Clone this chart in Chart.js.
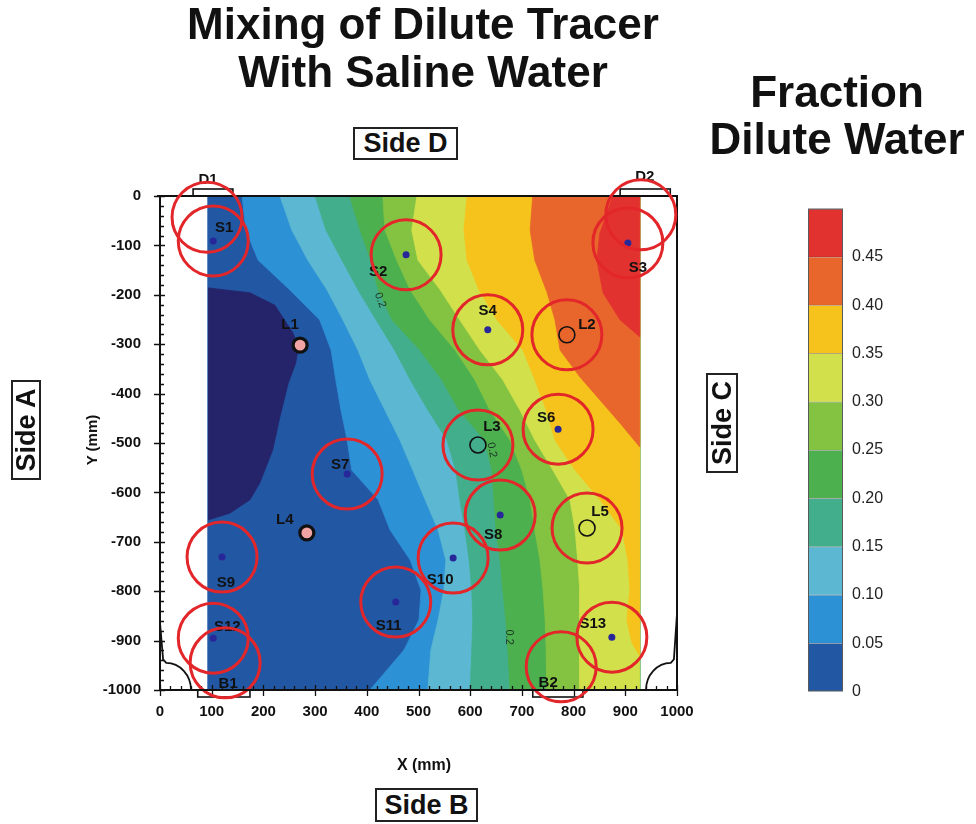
<!DOCTYPE html>
<html>
<head>
<meta charset="utf-8">
<script src="https://cdn.jsdelivr.net/npm/chart.js@4.4.1/dist/chart.umd.min.js"></script>
<style>
  html, body { margin: 0; padding: 0; background: #fff; }
  #wrap { position: relative; width: 976px; height: 824px; overflow: hidden;
          font-family: "Liberation Sans", Arial, Helvetica, sans-serif; color: #111; }
  canvas { position: absolute; }
  .t { position: absolute; font-weight: bold; white-space: nowrap; text-align: center; }
  .box { position: absolute; border: 2px solid #222; box-sizing: border-box; font-weight: bold;
         font-size: 27px; display: flex; align-items: center; justify-content: center; background: #fff; }
</style>
</head>
<body>
<div id="wrap">
  <canvas id="field" width="976" height="824" style="left:0;top:0"></canvas>
  <canvas id="scaleBar" width="110" height="520" style="left:790px;top:190px"></canvas>

  <div class="t" style="left:0;top:0;width:846px;font-size:44px;line-height:48px;">Mixing of Dilute Tracer<br>With Saline Water</div>
  <div class="t" style="left:700px;top:68px;width:274px;font-size:44px;line-height:47px;">Fraction<br>Dilute Water</div>

  <div class="box" style="left:353px;top:127px;width:105px;height:33px;">Side D</div>
  <div class="box" style="left:375px;top:788px;width:103px;height:34px;">Side B</div>
  <div class="box" style="left:-24px;top:415px;width:100px;height:30px;transform:rotate(-90deg);">Side A</div>
  <div class="box" style="left:672px;top:407px;width:100px;height:32px;transform:rotate(-90deg);">Side C</div>

  <div class="t" style="left:52px;top:431px;width:80px;font-size:15px;line-height:18px;transform:rotate(-90deg);">Y (mm)</div>
  <div class="t" style="left:374px;top:755px;width:100px;font-size:16px;line-height:19px;">X (mm)</div>
</div>

<script>
// ---- Tank plan, coordinates in mm ----------------------------------------
const FIELD_LEFT = 93, FIELD_RIGHT = 928, FIELD_TOP = 0, FIELD_BOTTOM = -1000;

// Contour levels of the dilute-water fraction and the fill of each band
const levels = [0, 0.05, 0.10, 0.15, 0.20, 0.25, 0.30, 0.35, 0.40, 0.45, 0.50];
const bandColors = ['#2257a4', '#2d91d5', '#5cb8d2', '#43ae8b', '#4cb04f',
                    '#84c342', '#d2e14b', '#f6c21c', '#e8662c', '#e2322f'];
const belowZeroColor = '#25246b';

// Contour lines (x, y in mm), traced from the top edge downwards
const line000 = [[93,-186],[174,-196],[222,-221],[257,-277],[268,-305],[262,-340],[248,-379],
                 [232,-447],[218,-514],[193,-581],[174,-615],[135,-642],[93,-656]];
const line005 = [[159,0],[166,-69],[190,-130],[251,-190],[309,-251],[331,-312],[340,-372],[350,-433],
                 [362,-494],[371,-555],[422,-615],[445,-676],[484,-737],[505,-798],[501,-858],[472,-919],[406,-1000]];
const line010 = [[232,0],[255,-69],[286,-130],[323,-190],[354,-251],[383,-312],[406,-372],[435,-433],
                 [464,-494],[489,-555],[513,-615],[538,-676],[553,-737],[549,-798],[538,-858],[524,-919],[518,-1000]];
const line015 = [[300,0],[321,-69],[352,-130],[383,-190],[418,-251],[454,-312],[484,-372],[518,-433],
                 [555,-494],[572,-555],[580,-615],[590,-676],[598,-737],[603,-798],[605,-858],[603,-919],[600,-1000]];
const line020 = [[367,0],[387,-69],[408,-130],[422,-190],[449,-251],[503,-312],[545,-372],[578,-433],
                 [628,-494],[642,-555],[646,-615],[650,-676],[658,-737],[663,-798],[669,-858],[673,-919],[677,-1000]];
const line025 = [[431,0],[435,-69],[458,-130],[484,-190],[522,-251],[571,-312],[609,-372],[638,-433],
                 [677,-494],[700,-555],[716,-615],[725,-676],[735,-737],[741,-798],[745,-858],[747,-919],[748,-1000]];
const line030 = [[497,0],[487,-69],[499,-130],[542,-190],[580,-251],[619,-312],[663,-372],[696,-433],
                 [725,-494],[760,-555],[793,-615],[803,-676],[808,-737],[812,-798],[812,-858],[812,-919],[812,-1000]];
const line035 = [[594,0],[588,-69],[594,-130],[617,-190],[652,-251],[702,-312],[725,-372],[747,-433],
                 [764,-494],[803,-555],[851,-615],[894,-676],[905,-737],[909,-798],[903,-858],[913,-905],[928,-931]];
const line040 = [[721,0],[716,-69],[725,-130],[749,-196],[764,-251],[774,-312],[812,-366],[851,-413],[890,-460],[928,-508]];
const line045 = [[876,0],[851,-75],[845,-130],[857,-196],[890,-251],[928,-285]];
const contourLines = [line005, line010, line015, line020, line025, line030, line035, line040, line045];

// Sampling points
const sensorNames = ['S1','S2','S3','S4','S6','S7','S8','S9','S10','S11','S12','S13'];
const sensorX = [103, 476, 905, 634, 770, 362, 658, 120, 567, 456, 103, 874];
const sensorY = [-91, -119, -95, -271, -472, -563, -646, -731, -733, -822, -895, -893];

const loggerNames = ['L1','L2','L3','L4','L5'];
const loggerX = [271, 787, 615, 284, 826];
const loggerY = [-302, -281, -504, -682, -672];
const loggerSolid = [true, false, false, true, false];

const portNames = ['D1','D2','B1','B2'];
const portX = [91, 930, 126, 776];
const portY = [-43, -38, -945, -953];
const portSpanLo = [64, 890, 73, 721];
const portSpanHi = [141, 987, 174, 818];

// Labels written on the 0.2 contour
const contourTagText = ['0.2', '0.2', '0.2'];
const contourTagX = [426, 642, 675];
const contourTagY = [-211, -514, -893];
const contourTagAngle = [70, 80, 90];

const axisTicksX = [0, 100, 200, 300, 400, 500, 600, 700, 800, 900, 1000];
const axisTicksY = [0, -100, -200, -300, -400, -500, -600, -700, -800, -900, -1000];

// ---- Label placement (pixel offsets from each anchor) --------------------
const labelOffset = {
  S1: [11, -13], S2: [-28, 17], S3: [10, 25], S4: [0, -19], S6: [-12, -11], S7: [-7, -9],
  S8: [-7, 20], S9: [4, 26], S10: [-13, 22], S11: [-7, 24], S12: [14, -11], S13: [-19, -13],
  L1: [-10, -20], L2: [20, -10], L3: [14, -18], L4: [-22, -13], L5: [13, -16],
  D1: [1, -37], D2: [4, -38], B1: [3, 21], B2: [-13, 16]
};

const FONT = '"Liberation Sans", Arial, Helvetica, sans-serif';

// ---- Build band polygons ---------------------------------------------------
function regionAbove(line) {
  const pts = line.map(([x, y]) => ({x, y}));
  const last = line[line.length - 1];
  if (last[1] <= FIELD_BOTTOM) pts.push({x: FIELD_RIGHT, y: FIELD_BOTTOM});
  pts.push({x: FIELD_RIGHT, y: FIELD_TOP});
  return pts;
}

function polygonSet(data, color, order) {
  return {
    type: 'line', data, order,
    fill: 'shape', backgroundColor: color,
    borderColor: color, borderWidth: 0.8,
    pointRadius: 0, pointHoverRadius: 0, tension: 0
  };
}

const datasets = [];
datasets.push(polygonSet([
  {x: FIELD_LEFT, y: FIELD_TOP}, {x: FIELD_LEFT, y: FIELD_BOTTOM},
  {x: FIELD_RIGHT, y: FIELD_BOTTOM}, {x: FIELD_RIGHT, y: FIELD_TOP}
], bandColors[0], 100));
contourLines.forEach((ln, i) => datasets.push(polygonSet(regionAbove(ln), bandColors[i + 1], 99 - i)));
const labelLayer = datasets.length;
datasets.push(polygonSet(line000.map(([x, y]) => ({x, y})), belowZeroColor, 80));

// sensor dots
datasets.push({
  type: 'scatter', order: 3, clip: false,
  data: sensorX.map((x, i) => ({x, y: sensorY[i]})),
  pointRadius: 3.5, pointBackgroundColor: '#27279a', pointBorderWidth: 0, pointHoverRadius: 3.5
});
// loggers
datasets.push({
  type: 'scatter', order: 2, clip: false,
  data: loggerX.map((x, i) => ({x, y: loggerY[i]})),
  pointRadius: loggerSolid.map(s => s ? 7 : 8),
  pointBackgroundColor: loggerSolid.map(s => s ? '#f2a3a3' : 'rgba(0,0,0,0)'),
  pointBorderColor: '#111', pointBorderWidth: loggerSolid.map(s => s ? 3.2 : 1.6),
  pointHoverRadius: 8
});
// sampling rings around sensors, open loggers and ports
const ringPts = [];
sensorX.forEach((x, i) => ringPts.push({x, y: sensorY[i]}));
loggerX.forEach((x, i) => { if (!loggerSolid[i]) ringPts.push({x, y: loggerY[i]}); });
portX.forEach((x, i) => ringPts.push({x, y: portY[i]}));
datasets.push({
  type: 'scatter', order: 1, clip: false, data: ringPts,
  pointRadius: 35, pointHoverRadius: 35, pointBackgroundColor: 'rgba(0,0,0,0)',
  pointBorderColor: '#e2262a', pointBorderWidth: 3
});

// ---- Frame, ticks, tags ----------------------------------------------------
const fieldDecor = {
  id: 'fieldDecor',
  afterDatasetDraw(chart, args) {
    if (args.index !== labelLayer) return;
    const xs = chart.scales.x, ys = chart.scales.y, ctx = chart.ctx;
    const px = v => xs.getPixelForValue(v), py = v => ys.getPixelForValue(v);
    ctx.save();
    ctx.strokeStyle = '#111';
    ctx.lineCap = 'butt';

    // top and right edge of the tank
    ctx.lineWidth = 2;
    ctx.beginPath();
    ctx.moveTo(px(0) - 3, py(0)); ctx.lineTo(px(1000), py(0));
    ctx.lineTo(px(1000), py(-1000));
    ctx.stroke();

    // ticks on the left and bottom axes
    ctx.lineWidth = 1.3;
    ctx.beginPath();
    for (let v = 0; v >= -1000; v -= 20) {
      const y = Math.round(py(v)) + 0.5, major = v % 100 === 0;
      ctx.moveTo(px(0) - (major ? 6 : 0), y); ctx.lineTo(px(0) + (major ? 5 : 4), y);
    }
    for (let v = 0; v <= 1000; v += 20) {
      const x = Math.round(px(v)) + 0.5, major = v % 100 === 0;
      ctx.moveTo(x, py(-1000) + (major ? 6 : 0)); ctx.lineTo(x, py(-1000) - (major ? 5 : 4));
    }
    ctx.stroke();

    // port brackets
    ctx.lineWidth = 1.6;
    portNames.forEach((n, i) => {
      const top = portY[i] > -500;
      const yEdge = py(top ? 0 : -1000), h = top ? -7 : 7;
      ctx.strokeRect(px(portSpanLo[i]), Math.min(yEdge, yEdge + h), px(portSpanHi[i]) - px(portSpanLo[i]), 7);
    });

    // rounded bottom corners of the tank outline
    ctx.lineWidth = 1.8;
    const rx = px(48) - px(0), ry = py(-1000) - py(-945);
    ctx.beginPath();
    ctx.moveTo(px(0), py(-864)); ctx.lineTo(px(6), py(-938)); ctx.lineTo(px(12), py(-945));
    ctx.ellipse(px(12), py(-1000), rx, ry, 0, -Math.PI / 2, 0);
    ctx.stroke();
    ctx.beginPath();
    ctx.moveTo(px(1000), py(-846)); ctx.lineTo(px(994), py(-938)); ctx.lineTo(px(988), py(-945));
    ctx.ellipse(px(988), py(-1000), rx, ry, 0, -Math.PI / 2, -Math.PI, true);
    ctx.stroke();

    // point labels
    ctx.fillStyle = '#111';
    ctx.font = 'bold 15px ' + FONT;
    ctx.textAlign = 'center'; ctx.textBaseline = 'middle';
    const put = (name, x, y) => {
      const o = labelOffset[name] || [0, 0];
      ctx.fillText(name, px(x) + o[0], py(y) + o[1]);
    };
    sensorNames.forEach((n, i) => put(n, sensorX[i], sensorY[i]));
    loggerNames.forEach((n, i) => put(n, loggerX[i], loggerY[i]));
    portNames.forEach((n, i) => put(n, portX[i], portY[i]));

    // contour value tags
    ctx.font = '11px ' + FONT;
    ctx.fillStyle = '#1d3326';
    contourTagText.forEach((t, i) => {
      ctx.save();
      ctx.translate(px(contourTagX[i]), py(contourTagY[i]));
      ctx.rotate(contourTagAngle[i] * Math.PI / 180);
      ctx.fillText(t, 0, 0);
      ctx.restore();
    });
    ctx.restore();
  }
};

const tickFont = {family: FONT, size: 15, weight: 'bold'};
new Chart(document.getElementById('field'), {
  type: 'line',
  data: {datasets},
  options: {
    responsive: false, animation: false, devicePixelRatio: 1,
    layout: {padding: {left: 0, right: 299, top: 196, bottom: 74}},
    plugins: {legend: {display: false}, tooltip: {enabled: false}},
    events: [],
    scales: {
      x: {
        type: 'linear', position: 'bottom', min: 0, max: 1000,
        afterBuildTicks: s => { s.ticks = axisTicksX.map(v => ({value: v})); },
        ticks: {font: tickFont, color: '#111', padding: 13, maxRotation: 0, autoSkip: false,
                callback: v => String(v)},
        grid: {display: false, drawTicks: false},
        border: {display: true, color: '#111', width: 2, z: 1},
        afterFit: s => { s.height = 60; }
      },
      y: {
        type: 'linear', position: 'left', min: -1000, max: 0,
        afterBuildTicks: s => { s.ticks = axisTicksY.map(v => ({value: v})); },
        ticks: {font: tickFont, color: '#111', padding: 19, autoSkip: false,
                callback: v => String(v)},
        grid: {display: false, drawTicks: false},
        border: {display: true, color: '#111', width: 2, z: 1},
        afterFit: s => { s.width = 160; }
      }
    }
  },
  plugins: [fieldDecor]
});

// ---- Colour scale ----------------------------------------------------------
const barFrame = {
  id: 'barFrame',
  afterDatasetsDraw(chart) {
    const a = chart.chartArea, ctx = chart.ctx;
    ctx.save();
    ctx.strokeStyle = '#5a5a5a'; ctx.lineWidth = 1;
    ctx.strokeRect(a.left + 0.5, a.top + 0.5, a.right - a.left - 1, a.bottom - a.top - 1);
    ctx.restore();
  }
};
new Chart(document.getElementById('scaleBar'), {
  type: 'bar',
  data: {
    labels: [''],
    datasets: bandColors.map((c, i) => ({
      data: [levels[i + 1] - levels[i]], backgroundColor: c,
      borderWidth: {top: 1, bottom: 0, left: 0, right: 0}, borderColor: 'rgba(40,40,40,0.35)',
      borderSkipped: false, barPercentage: 1, categoryPercentage: 1
    }))
  },
  options: {
    responsive: false, animation: false, devicePixelRatio: 1, events: [],
    layout: {padding: {left: 18, right: 0, top: 13, bottom: 18}},
    plugins: {legend: {display: false}, tooltip: {enabled: false}},
    scales: {
      x: {stacked: true, display: false},
      y: {
        stacked: true, position: 'right', min: 0, max: 0.5,
        afterBuildTicks: s => { s.ticks = levels.map(v => ({value: v})); },
        ticks: {font: {family: FONT, size: 16}, color: '#222', padding: 9,
                callback: v => v >= 0.499 ? '' : (v === 0 ? '0' : v.toFixed(2))},
        grid: {display: false, drawTicks: false},
        border: {display: false},
        afterFit: s => { s.width = 57; }
      }
    }
  },
  plugins: [barFrame]
});
</script>
</body>
</html>
